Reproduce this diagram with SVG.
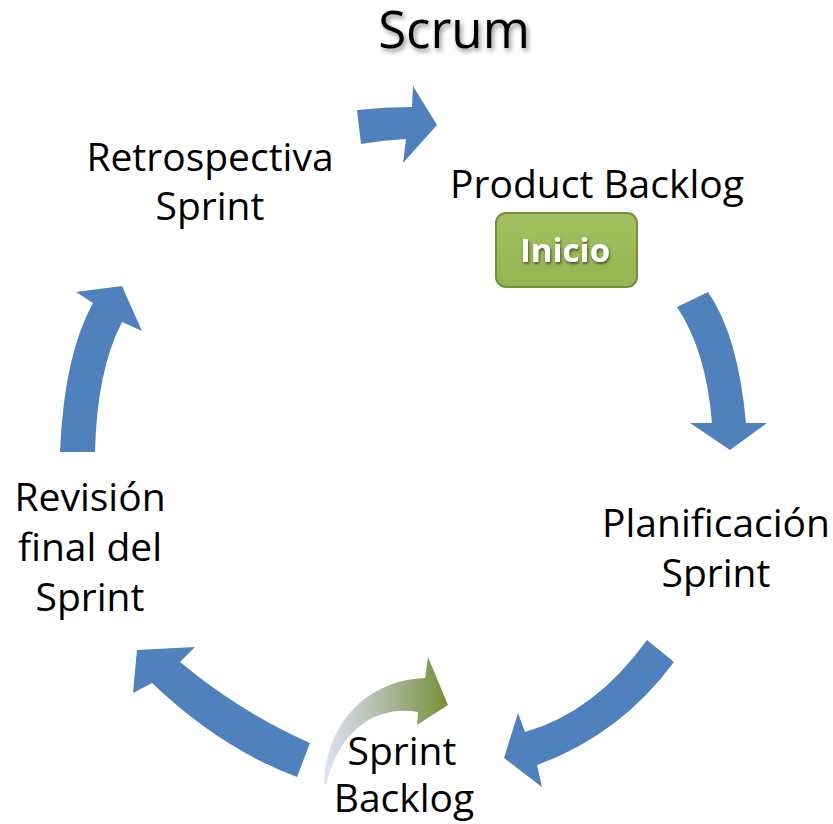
<svg xmlns="http://www.w3.org/2000/svg" width="833" height="824" viewBox="0 0 833 824">
  <defs>
    <style>
      .lbl { font-family: "Open Sans", "Noto Sans", "Liberation Sans", sans-serif; font-size: 39px; fill: #000; text-anchor: middle; }
      .title { font-family: "Open Sans", "Noto Sans", "Liberation Sans", sans-serif; font-size: 51px; fill: #000; text-anchor: middle; }
      .btn-text { font-family: "Open Sans", "Noto Sans", "Liberation Sans", sans-serif; font-size: 33px; font-weight: bold; fill: #fff; text-anchor: middle; }
      .cycle { fill: #4f81bd; }
    </style>
    <filter id="titleShadow" x="-20%" y="-30%" width="140%" height="170%">
      <feDropShadow dx="2" dy="3" stdDeviation="2.5" flood-color="#000" flood-opacity="0.45"/>
    </filter>
    <filter id="btnTextShadow" x="-20%" y="-30%" width="140%" height="170%">
      <feDropShadow dx="1" dy="2" stdDeviation="1.5" flood-color="#000" flood-opacity="0.55"/>
    </filter>
    <linearGradient id="btnFill" x1="0" y1="0" x2="0" y2="1">
      <stop offset="0" stop-color="#a3c160"/>
      <stop offset="1" stop-color="#93b451"/>
    </linearGradient>
    <linearGradient id="smallArrow" gradientUnits="userSpaceOnUse" x1="325" y1="0" x2="445" y2="0">
      <stop offset="0" stop-color="#dfe1f7"/>
      <stop offset="0.45" stop-color="#b3bca9"/>
      <stop offset="1" stop-color="#76923c"/>
    </linearGradient>
  </defs>

  <rect width="833" height="824" fill="#fff"/>

  <!-- title -->
  <text class="title" x="454" y="48" filter="url(#titleShadow)">Scrum</text>

  <!-- cycle arrows -->
  <g id="connectors">
    <!-- Retrospectiva -> Product Backlog -->
    <path class="cycle" d="M357,110 Q385,107 412,107 L413,86 L437,125 L403,163 L406,139 Q384,140 361,144 Z"/>
    <!-- Product Backlog -> Planificación -->
    <path class="cycle" d="M708,292 Q738,335 746,423 L767,423 L730,450 L690,423 L712,423 Q706,350 677,307 Z"/>
    <!-- Planificación -> Sprint Backlog -->
    <path class="cycle" d="M647,640 L674,662 Q620,735 537,765 L542,787 L504,758 L518,713 L525,732 Q595,712 647,640 Z"/>
    <!-- Sprint Backlog -> Revisión -->
    <path class="cycle" d="M310,743 Q240,712 180,662 L195,647 L137,650 L133,693 L152,683 Q220,748 297,777 Z"/>
    <!-- Revisión -> Retrospectiva -->
    <path class="cycle" d="M60,452 Q64,355 93,303 L76,292 L122,286 L142,331 L122,322 Q97,370 95,452 Z"/>
    <!-- sprint iteration arrow -->
    <path fill="url(#smallArrow)" d="M324,784 C326,720 370,680 425,678 L428,657 L448,705 L417,725 L418,712 C375,705 340,730 326,784 Z"/>
  </g>

  <g id="product-backlog">
    <text class="lbl" x="597" y="198">Product Backlog</text>
  </g>

  <g id="inicio">
    <rect x="496" y="213" width="141" height="74" rx="10" ry="10" fill="url(#btnFill)" stroke="#74903f" stroke-width="2"/>
    <text class="btn-text" x="565" y="262" filter="url(#btnTextShadow)">Inicio</text>
  </g>

  <g id="planificacion-sprint">
    <text class="lbl" x="716" y="537">Planificación</text>
    <text class="lbl" x="716" y="587">Sprint</text>
  </g>

  <g id="sprint-backlog">
    <text class="lbl" x="402" y="765">Sprint</text>
    <text class="lbl" x="404" y="812">Backlog</text>
  </g>

  <g id="revision-final">
    <text class="lbl" x="90" y="511">Revisión</text>
    <text class="lbl" x="90" y="561">final del</text>
    <text class="lbl" x="90" y="611">Sprint</text>
  </g>

  <g id="retrospectiva-sprint">
    <text class="lbl" x="210" y="171">Retrospectiva</text>
    <text class="lbl" x="210" y="220">Sprint</text>
  </g>
</svg>
